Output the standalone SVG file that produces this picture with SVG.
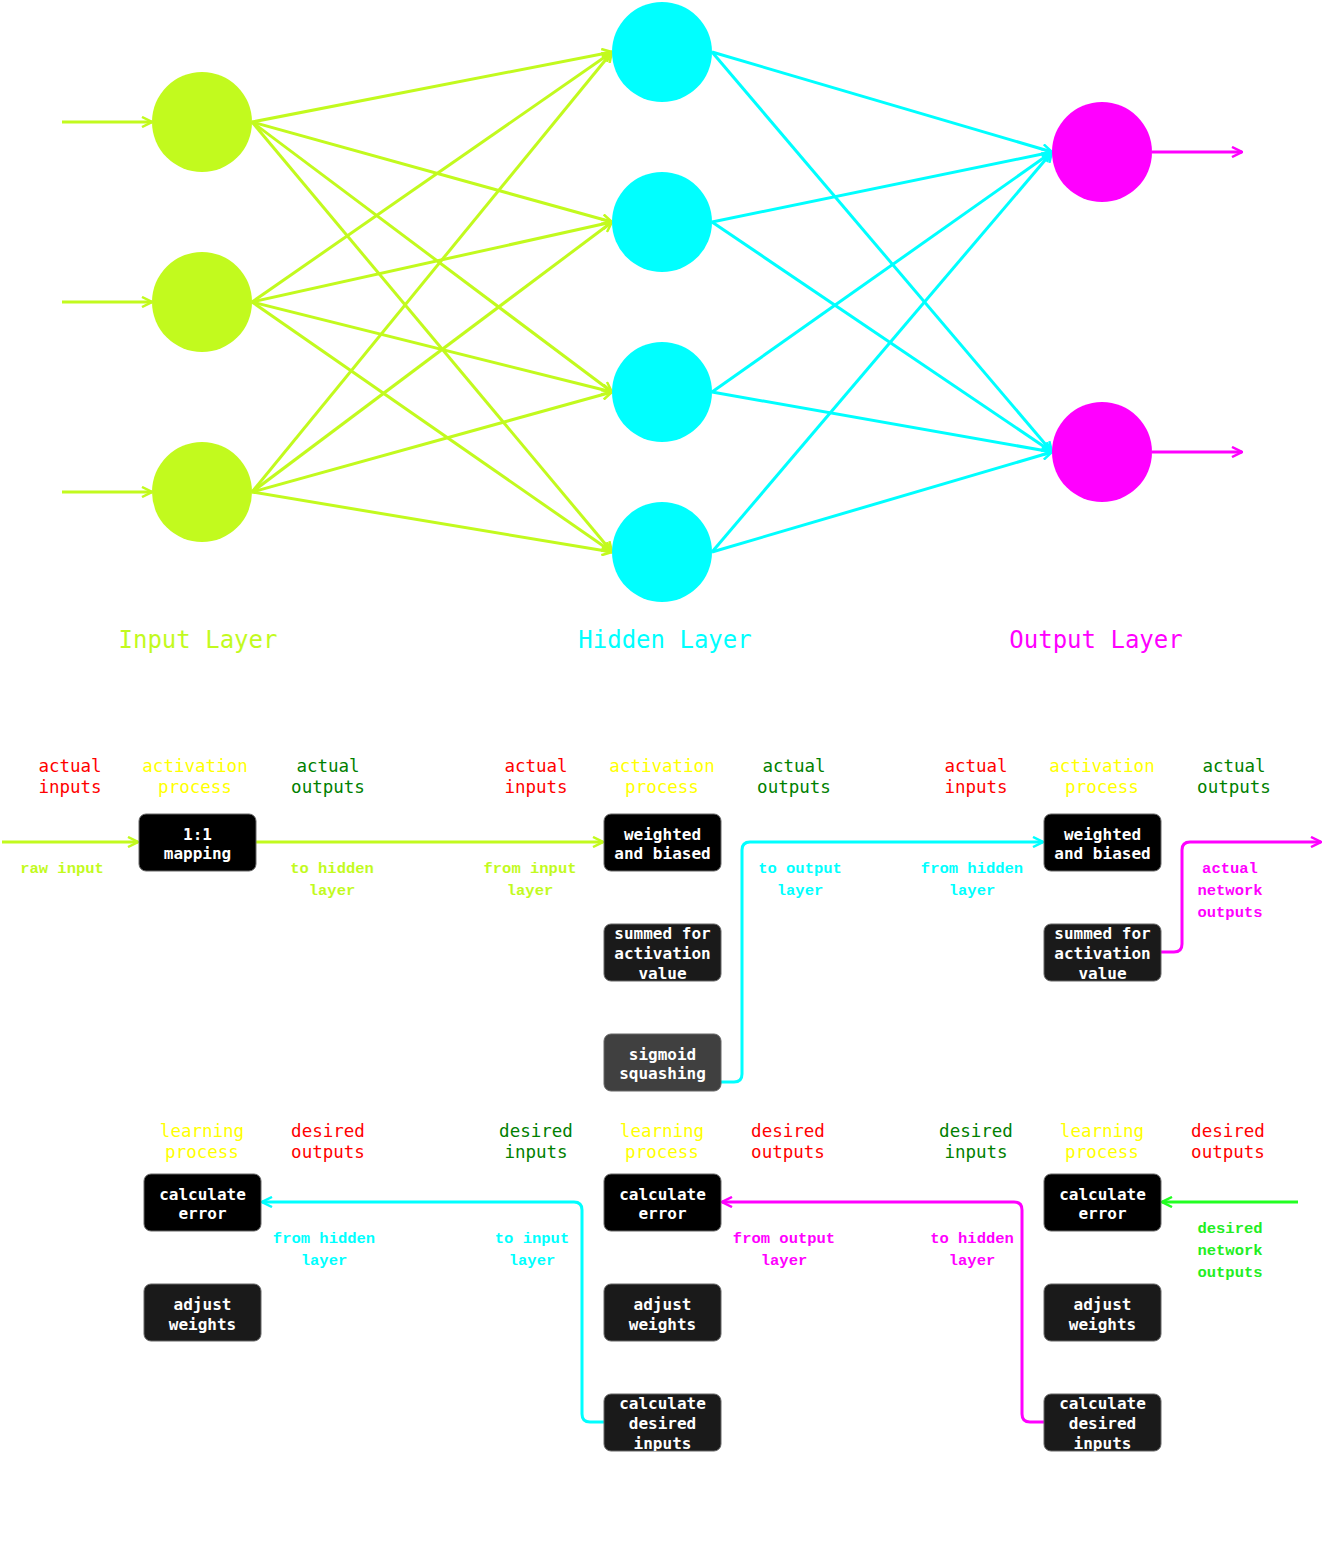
<svg xmlns="http://www.w3.org/2000/svg" width="1322" height="1561" viewBox="0 0 1322 1561">
<style>
.lime{stroke:#c2fa1e}
.cyan{stroke:#00ffff}
.mag{stroke:#ff00ff}
.grn{stroke:#22ff22}
.ln{fill:none;stroke-width:3}
.layer{font-family:"DejaVu Sans Mono",monospace;font-size:24px;text-anchor:middle}
.hd{font-family:"DejaVu Sans Mono",monospace;font-size:17.5px;text-anchor:middle}
.sm{font-family:"Liberation Mono",monospace;font-size:15.5px;font-weight:bold;text-anchor:middle}
.bx{stroke:#666;stroke-width:1}
.bt{font-family:"DejaVu Sans Mono",monospace;font-size:16px;font-weight:bold;fill:#fff;text-anchor:middle}
</style>
<defs>
<marker id="aL" viewBox="0 0 12 12" refX="11" refY="6" markerWidth="12" markerHeight="12" markerUnits="userSpaceOnUse" orient="auto"><path d="M1,1 L11,6 L1,11" fill="none" stroke="#c2fa1e" stroke-width="2.5"/></marker>
<marker id="aC" viewBox="0 0 12 12" refX="11" refY="6" markerWidth="12" markerHeight="12" markerUnits="userSpaceOnUse" orient="auto"><path d="M1,1 L11,6 L1,11" fill="none" stroke="#00ffff" stroke-width="2.5"/></marker>
<marker id="aM" viewBox="0 0 12 12" refX="11" refY="6" markerWidth="12" markerHeight="12" markerUnits="userSpaceOnUse" orient="auto"><path d="M1,1 L11,6 L1,11" fill="none" stroke="#ff00ff" stroke-width="2.5"/></marker>
<marker id="aG" viewBox="0 0 12 12" refX="11" refY="6" markerWidth="12" markerHeight="12" markerUnits="userSpaceOnUse" orient="auto"><path d="M1,1 L11,6 L1,11" fill="none" stroke="#22ff22" stroke-width="2.5"/></marker>
<clipPath id="c1"><rect x="604" y="924" width="117" height="57"/></clipPath>
<clipPath id="c2"><rect x="1044" y="924" width="117" height="57"/></clipPath>
<clipPath id="c3"><rect x="604" y="1394" width="117" height="57"/></clipPath>
<clipPath id="c4"><rect x="1044" y="1394" width="117" height="57"/></clipPath>
</defs>
<rect width="1322" height="1561" fill="#fff"/>

<g id="connectors">
  <!-- inputs into input layer -->
  <g class="ln lime" marker-end="url(#aL)">
    <line x1="62" y1="122" x2="152" y2="122"/>
    <line x1="62" y1="302" x2="152" y2="302"/>
    <line x1="62" y1="492" x2="152" y2="492"/>
    <line x1="252" y1="122" x2="612" y2="52"/>
    <line x1="252" y1="122" x2="612" y2="222"/>
    <line x1="252" y1="122" x2="612" y2="392"/>
    <line x1="252" y1="122" x2="612" y2="552"/>
    <line x1="252" y1="302" x2="612" y2="52"/>
    <line x1="252" y1="302" x2="612" y2="222"/>
    <line x1="252" y1="302" x2="612" y2="392"/>
    <line x1="252" y1="302" x2="612" y2="552"/>
    <line x1="252" y1="492" x2="612" y2="52"/>
    <line x1="252" y1="492" x2="612" y2="222"/>
    <line x1="252" y1="492" x2="612" y2="392"/>
    <line x1="252" y1="492" x2="612" y2="552"/>
  </g>
  <g class="ln cyan" marker-end="url(#aC)">
    <line x1="712" y1="52" x2="1052" y2="152"/>
    <line x1="712" y1="52" x2="1052" y2="452"/>
    <line x1="712" y1="222" x2="1052" y2="152"/>
    <line x1="712" y1="222" x2="1052" y2="452"/>
    <line x1="712" y1="392" x2="1052" y2="152"/>
    <line x1="712" y1="392" x2="1052" y2="452"/>
    <line x1="712" y1="552" x2="1052" y2="152"/>
    <line x1="712" y1="552" x2="1052" y2="452"/>
  </g>
  <g class="ln mag" marker-end="url(#aM)">
    <line x1="1152" y1="152" x2="1242" y2="152"/>
    <line x1="1152" y1="452" x2="1242" y2="452"/>
  </g>
  <!-- forward pass -->
  <line class="ln lime" x1="2" y1="842" x2="138" y2="842" marker-end="url(#aL)"/>
  <line class="ln lime" x1="256" y1="842" x2="603" y2="842" marker-end="url(#aL)"/>
  <path class="ln cyan" d="M721,1082 H734 Q742,1082 742,1074 V850 Q742,842 750,842 H1043" marker-end="url(#aC)"/>
  <path class="ln mag" d="M1161,952 H1174 Q1182,952 1182,944 V850 Q1182,842 1190,842 H1321" marker-end="url(#aM)"/>
  <!-- backward pass -->
  <path class="ln cyan" d="M604,1422 H590 Q582,1422 582,1414 V1210 Q582,1202 574,1202 H262" marker-end="url(#aC)"/>
  <path class="ln mag" d="M1044,1422 H1030 Q1022,1422 1022,1414 V1210 Q1022,1202 1014,1202 H722" marker-end="url(#aM)"/>
  <line class="ln grn" x1="1298" y1="1202" x2="1162" y2="1202" marker-end="url(#aG)"/>
</g>

<g id="input-layer" fill="#c2fa1e">
  <circle id="in1" cx="202" cy="122" r="50"/>
  <circle id="in2" cx="202" cy="302" r="50"/>
  <circle id="in3" cx="202" cy="492" r="50"/>
</g>
<g id="hidden-layer" fill="#00ffff">
  <circle id="h1" cx="662" cy="52" r="50"/>
  <circle id="h2" cx="662" cy="222" r="50"/>
  <circle id="h3" cx="662" cy="392" r="50"/>
  <circle id="h4" cx="662" cy="552" r="50"/>
</g>
<g id="output-layer" fill="#ff00ff">
  <circle id="o1" cx="1102" cy="152" r="50"/>
  <circle id="o2" cx="1102" cy="452" r="50"/>
</g>

<g id="layer-labels" class="layer">
  <text x="198" y="648" fill="#c2fa1e">Input Layer</text>
  <text x="665" y="648" fill="#00ffff">Hidden Layer</text>
  <text x="1096" y="648" fill="#ff00ff">Output Layer</text>
</g>

<g id="headers" class="hd">
  <text x="70" y="772" fill="#ff0000">actual<tspan x="70" dy="21">inputs</tspan></text>
  <text x="195" y="772" fill="#ffff00">activation<tspan x="195" dy="21">process</tspan></text>
  <text x="328" y="772" fill="#008000">actual<tspan x="328" dy="21">outputs</tspan></text>
  <text x="536" y="772" fill="#ff0000">actual<tspan x="536" dy="21">inputs</tspan></text>
  <text x="662" y="772" fill="#ffff00">activation<tspan x="662" dy="21">process</tspan></text>
  <text x="794" y="772" fill="#008000">actual<tspan x="794" dy="21">outputs</tspan></text>
  <text x="976" y="772" fill="#ff0000">actual<tspan x="976" dy="21">inputs</tspan></text>
  <text x="1102" y="772" fill="#ffff00">activation<tspan x="1102" dy="21">process</tspan></text>
  <text x="1234" y="772" fill="#008000">actual<tspan x="1234" dy="21">outputs</tspan></text>

  <text x="202" y="1137" fill="#ffff00">learning<tspan x="202" dy="21">process</tspan></text>
  <text x="328" y="1137" fill="#ff0000">desired<tspan x="328" dy="21">outputs</tspan></text>
  <text x="536" y="1137" fill="#008000">desired<tspan x="536" dy="21">inputs</tspan></text>
  <text x="662" y="1137" fill="#ffff00">learning<tspan x="662" dy="21">process</tspan></text>
  <text x="788" y="1137" fill="#ff0000">desired<tspan x="788" dy="21">outputs</tspan></text>
  <text x="976" y="1137" fill="#008000">desired<tspan x="976" dy="21">inputs</tspan></text>
  <text x="1102" y="1137" fill="#ffff00">learning<tspan x="1102" dy="21">process</tspan></text>
  <text x="1228" y="1137" fill="#ff0000">desired<tspan x="1228" dy="21">outputs</tspan></text>
</g>

<g id="flow-labels" class="sm">
  <text x="62" y="873" fill="#c2fa1e">raw input</text>
  <text x="332" y="873" fill="#c2fa1e">to hidden<tspan x="332" dy="22">layer</tspan></text>
  <text x="530" y="873" fill="#c2fa1e">from input<tspan x="530" dy="22">layer</tspan></text>
  <text x="800" y="873" fill="#00ffff">to output<tspan x="800" dy="22">layer</tspan></text>
  <text x="972" y="873" fill="#00ffff">from hidden<tspan x="972" dy="22">layer</tspan></text>
  <text x="1230" y="873" fill="#ff00ff">actual<tspan x="1230" dy="22">network</tspan><tspan x="1230" dy="22">outputs</tspan></text>
  <text x="324" y="1243" fill="#00ffff">from hidden<tspan x="324" dy="22">layer</tspan></text>
  <text x="532" y="1243" fill="#00ffff">to input<tspan x="532" dy="22">layer</tspan></text>
  <text x="784" y="1243" fill="#ff00ff">from output<tspan x="784" dy="22">layer</tspan></text>
  <text x="972" y="1243" fill="#ff00ff">to hidden<tspan x="972" dy="22">layer</tspan></text>
  <text x="1230" y="1233" fill="#22ee22">desired<tspan x="1230" dy="22">network</tspan><tspan x="1230" dy="22">outputs</tspan></text>
</g>

<g id="box-mapping">
  <rect class="bx" x="139" y="814" width="117" height="57" rx="7" fill="#000"/>
  <text class="bt" x="197.5" y="840">1:1<tspan x="197.5" dy="19">mapping</tspan></text>
</g>
<g id="box-h-weighted">
  <rect class="bx" x="604" y="814" width="117" height="57" rx="7" fill="#000"/>
  <text class="bt" x="662.5" y="840">weighted<tspan x="662.5" dy="19">and biased</tspan></text>
</g>
<g id="box-h-summed">
  <rect class="bx" x="604" y="924" width="117" height="57" rx="7" fill="#1a1a1a"/>
  <text class="bt" x="662.5" y="939" clip-path="url(#c1)">summed for<tspan x="662.5" dy="20">activation</tspan><tspan x="662.5" dy="20">value</tspan></text>
</g>
<g id="box-h-sigmoid">
  <rect class="bx" x="604" y="1034" width="117" height="57" rx="7" fill="#404040"/>
  <text class="bt" x="662.5" y="1060">sigmoid<tspan x="662.5" dy="19">squashing</tspan></text>
</g>
<g id="box-o-weighted">
  <rect class="bx" x="1044" y="814" width="117" height="57" rx="7" fill="#000"/>
  <text class="bt" x="1102.5" y="840">weighted<tspan x="1102.5" dy="19">and biased</tspan></text>
</g>
<g id="box-o-summed">
  <rect class="bx" x="1044" y="924" width="117" height="57" rx="7" fill="#1a1a1a"/>
  <text class="bt" x="1102.5" y="939" clip-path="url(#c2)">summed for<tspan x="1102.5" dy="20">activation</tspan><tspan x="1102.5" dy="20">value</tspan></text>
</g>

<g id="box-i-error">
  <rect class="bx" x="144" y="1174" width="117" height="57" rx="7" fill="#000"/>
  <text class="bt" x="202.5" y="1200">calculate<tspan x="202.5" dy="19">error</tspan></text>
</g>
<g id="box-i-adjust">
  <rect class="bx" x="144" y="1284" width="117" height="57" rx="7" fill="#1a1a1a"/>
  <text class="bt" x="202.5" y="1310">adjust<tspan x="202.5" dy="20">weights</tspan></text>
</g>
<g id="box-h-error">
  <rect class="bx" x="604" y="1174" width="117" height="57" rx="7" fill="#000"/>
  <text class="bt" x="662.5" y="1200">calculate<tspan x="662.5" dy="19">error</tspan></text>
</g>
<g id="box-h-adjust">
  <rect class="bx" x="604" y="1284" width="117" height="57" rx="7" fill="#1a1a1a"/>
  <text class="bt" x="662.5" y="1310">adjust<tspan x="662.5" dy="20">weights</tspan></text>
</g>
<g id="box-h-desired">
  <rect class="bx" x="604" y="1394" width="117" height="57" rx="7" fill="#1a1a1a"/>
  <text class="bt" x="662.5" y="1409" clip-path="url(#c3)">calculate<tspan x="662.5" dy="20">desired</tspan><tspan x="662.5" dy="20">inputs</tspan></text>
</g>
<g id="box-o-error">
  <rect class="bx" x="1044" y="1174" width="117" height="57" rx="7" fill="#000"/>
  <text class="bt" x="1102.5" y="1200">calculate<tspan x="1102.5" dy="19">error</tspan></text>
</g>
<g id="box-o-adjust">
  <rect class="bx" x="1044" y="1284" width="117" height="57" rx="7" fill="#1a1a1a"/>
  <text class="bt" x="1102.5" y="1310">adjust<tspan x="1102.5" dy="20">weights</tspan></text>
</g>
<g id="box-o-desired">
  <rect class="bx" x="1044" y="1394" width="117" height="57" rx="7" fill="#1a1a1a"/>
  <text class="bt" x="1102.5" y="1409" clip-path="url(#c4)">calculate<tspan x="1102.5" dy="20">desired</tspan><tspan x="1102.5" dy="20">inputs</tspan></text>
</g>
</svg>
